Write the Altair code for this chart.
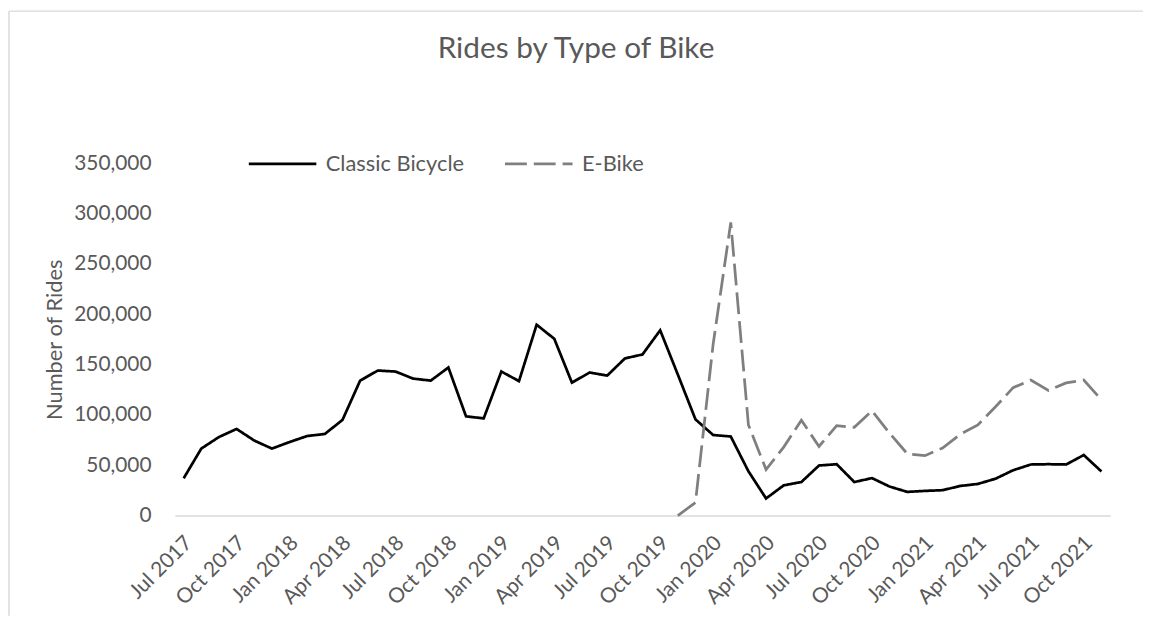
import altair as alt
import pandas as pd

months = [
    "Jul 2017", "Aug 2017", "Sep 2017", "Oct 2017", "Nov 2017", "Dec 2017",
    "Jan 2018", "Feb 2018", "Mar 2018", "Apr 2018", "May 2018", "Jun 2018",
    "Jul 2018", "Aug 2018", "Sep 2018", "Oct 2018", "Nov 2018", "Dec 2018",
    "Jan 2019", "Feb 2019", "Mar 2019", "Apr 2019", "May 2019", "Jun 2019",
    "Jul 2019", "Aug 2019", "Sep 2019", "Oct 2019", "Nov 2019", "Dec 2019",
    "Jan 2020", "Feb 2020", "Mar 2020", "Apr 2020", "May 2020", "Jun 2020",
    "Jul 2020", "Aug 2020", "Sep 2020", "Oct 2020", "Nov 2020", "Dec 2020",
    "Jan 2021", "Feb 2021", "Mar 2021", "Apr 2021", "May 2021", "Jun 2021",
    "Jul 2021", "Aug 2021", "Sep 2021", "Oct 2021", "Nov 2021",
]

classic = [
    37000, 66500, 78000, 86000, 74500, 66500,
    73000, 79000, 81000, 95000, 134000, 144000,
    143000, 136000, 134000, 147000, 98500, 96500,
    143000, 133500, 189500, 175500, 132000, 142000,
    139000, 156000, 160000, 184000, 140000, 95500,
    80000, 78500, 44000, 17000, 30000, 33300,
    49700, 51000, 33300, 37200, 28800, 23500,
    24500, 25200, 29400, 31400, 36600, 45000,
    50700, 51000, 50700, 60100, 43800,
]

# E-Bike series starts in Nov 2019
ebike_months = months[28:]
ebike = [
    0, 13000,
    170000, 291000, 90000, 45700, 68000, 94700,
    68600, 89200, 87600, 104000, 81700, 61400,
    59500, 67000, 80700, 90000, 108000, 127000,
    134600, 124200, 131700, 134600, 115000,
]

series_names = ["Classic Bicycle", "E-Bike"]
tick_labels = months[::3]
y_ticks = [0, 50000, 100000, 150000, 200000, 250000, 300000, 350000]

rows = [{"Month": m, "Rides": v, "Type": series_names[0]} for m, v in zip(months, classic)]
rows += [{"Month": m, "Rides": v, "Type": series_names[1]} for m, v in zip(ebike_months, ebike)]
df = pd.DataFrame(rows)

FONT = "Lato"
TXT = "#595959"

W, H = 942, 355
PAD = {"left": 168, "top": 154, "right": 33, "bottom": 101}

legend_opts = dict(
    title=None,
    orient="none",
    legendX=73,
    legendY=-35,
    direction="horizontal",
    symbolType="stroke",
    symbolSize=4624,
    symbolStrokeWidth=2.75,
    labelFont=FONT,
    labelFontSize=22,
    labelColor=TXT,
    labelOffset=8,
    columnPadding=35,
    padding=0,
)

lines = alt.Chart(df).mark_line(strokeWidth=2.75, strokeCap="butt").encode(
    x=alt.X(
        "Month:O",
        sort=months,
        scale=alt.Scale(type="point", padding=0.5),
        axis=alt.Axis(
            values=tick_labels,
            title=None,
            labelAngle=-45,
            labelAlign="right",
            labelBaseline="middle",
            labelPadding=24,
            labelOffset=5,
            labelFont=FONT,
            labelFontSize=21,
            labelColor=TXT,
            labelOverlap=False,
            ticks=False,
            domainColor="#d9d9d9",
            domainWidth=1.5,
            grid=False,
        ),
    ),
    y=alt.Y(
        "Rides:Q",
        scale=alt.Scale(domain=[0, 350000], nice=False),
        axis=alt.Axis(
            values=y_ticks,
            format=",.0f",
            title="Number of Rides",
            titleFont=FONT,
            titleFontSize=22,
            titleFontWeight="normal",
            titleColor=TXT,
            titlePadding=7,
            labelFont=FONT,
            labelFontSize=21,
            labelColor=TXT,
            labelPadding=24,
            ticks=False,
            domain=False,
            grid=False,
        ),
    ),
    color=alt.Color(
        "Type:N",
        scale=alt.Scale(domain=series_names, range=["#000000", "#7f7f7f"]),
        legend=alt.Legend(**legend_opts),
    ),
    strokeDash=alt.StrokeDash(
        "Type:N",
        scale=alt.Scale(domain=series_names, range=[[1, 0], [22, 7]]),
        legend=alt.Legend(**legend_opts),
    ),
)

one = pd.DataFrame({"a": [1]})
border_left = alt.Chart(one).mark_rule(color="#d9d9d9", strokeWidth=1.5).encode(
    x=alt.value(-167), y=alt.value(-153), y2=alt.value(H + PAD["bottom"])
)
border_top = alt.Chart(one).mark_rule(color="#d9d9d9", strokeWidth=1.5).encode(
    x=alt.value(-167), x2=alt.value(W + PAD["right"]), y=alt.value(-153)
)

chart = alt.layer(lines, border_left, border_top).properties(
    width=W,
    height=H,
    padding=PAD,
    autosize=alt.AutoSizeParams(type="none"),
    title=alt.TitleParams(
        text="Rides by Type of Bike",
        font=FONT,
        fontSize=30,
        fontWeight="normal",
        color=TXT,
        anchor="middle",
        frame="group",
        baseline="alphabetic",
        dx=-67,
        offset=-78,
    ),
).configure_view(stroke=None)

chart.save("out.html", embed_options={"renderer": "svg", "actions": False})
